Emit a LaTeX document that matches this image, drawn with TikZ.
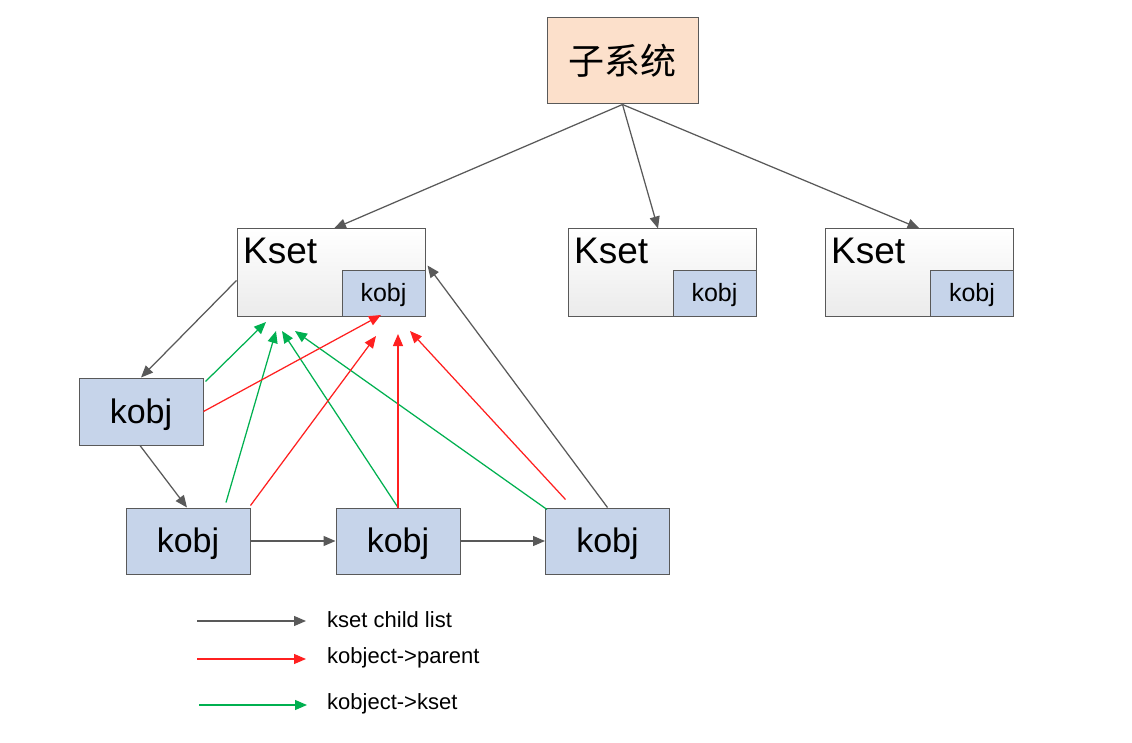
\documentclass[tikz,border=0pt]{standalone}
\usepackage{fontspec}
\setmainfont{Liberation Sans}
\newfontfamily\cjk{Noto Sans CJK SC}
\usetikzlibrary{arrows.meta,calc}
\definecolor{lgray}{HTML}{595959}
\definecolor{lgreen}{HTML}{00B050}
\definecolor{lred}{HTML}{FF2020}
\definecolor{peach}{HTML}{FCE0CB}
\definecolor{kblue}{HTML}{C6D4EA}
\definecolor{ksetbot}{HTML}{EBEBEB}
\begin{document}
\begin{tikzpicture}[x=1pt,y=-1pt,
  box/.style={draw=lgray,line width=1pt,inner sep=0pt},
  subbox/.style={box,fill=peach,minimum width=151pt,minimum height=86pt,font=\cjk\fontsize{36}{40}\selectfont},
  ksetbox/.style={box,top color=white,bottom color=ksetbot,minimum width=188pt,minimum height=87pt},
  kobjbig/.style={box,fill=kblue,minimum width=124pt,minimum height=66pt,font=\fontsize{34}{38}\selectfont,text height=30.6pt,text depth=6.8pt},
  kobjsmall/.style={box,fill=kblue,minimum width=83pt,minimum height=45pt,font=\fontsize{25}{28}\selectfont,text height=21.3pt,text depth=5pt},
  ksettext/.style={inner sep=0pt,anchor=base west,font=\fontsize{37}{40}\selectfont},
  legtext/.style={inner sep=0pt,anchor=west,font=\fontsize{22}{24}\selectfont},
  arr/.style={line width=1.25pt,-{Triangle[length=12pt,width=10pt]}},
  grayarr/.style={arr,draw=lgray},
  redarr/.style={arr,draw=lred},
  greenarr/.style={arr,draw=lgreen}]
\useasboundingbox (0,0) rectangle (1132,743);

% top
\node[subbox] (sub) at (622.5,61) {子系统};

% ksets
\node[ksetbox] (kset1) at (331,272.5) {};
\node[ksetbox] (kset2) at (662,272.5) {};
\node[ksetbox] (kset3) at (919.5,272.5) {};
\node[ksettext] (kt1) at (243,264) {Kset};
\node[ksettext] (kt2) at (574,264) {Kset};
\node[ksettext] (kt3) at (831,264) {Kset};
\node[kobjsmall,anchor=south east] (ko1) at (kset1.south east) {kobj};
\node[kobjsmall,anchor=south east] (ko2) at (kset2.south east) {kobj};
\node[kobjsmall,anchor=south east] (ko3) at (kset3.south east) {kobj};

% kobjs
\node[kobjbig,minimum height=67pt] (kA) at (141,411.5) {kobj};
\node[kobjbig] (kB) at (188,541) {kobj};
\node[kobjbig] (kC) at (398,541) {kobj};
\node[kobjbig] (kD) at (607.5,541) {kobj};

% gray arrows
\draw[grayarr] (sub.south) -- ([xshift=3pt]kset1.north);
\draw[grayarr] (sub.south) -- ([xshift=-4pt]kset2.north);
\draw[grayarr] (sub.south) -- ([xshift=0pt]kset3.north);
\draw[grayarr] ([yshift=-8pt]kset1.west) -- (kA.north);
\draw[grayarr] ([xshift=-1pt]kA.south) -- ([xshift=-1pt]kB.north);
\draw[grayarr] (kB.east) -- (kC.west);
\draw[grayarr] (kC.east) -- (kD.west);
\draw[grayarr] (kD.north) -- ([yshift=7pt,xshift=2pt]kset1.east);

% free ends
\coordinate (g1) at (266,322);
\coordinate (g2) at (276,331);
\coordinate (g3) at (282,331);
\coordinate (g4) at (295,331);
\coordinate (r1) at (381,315);
\coordinate (r2) at (376,336);
\coordinate (r3) at (398,334);
\coordinate (r4) at (410,331);

% green arrows
\draw[greenarr] ([xshift=2pt,yshift=-4pt]kA.north east) -- (g1);
\draw[greenarr] ([xshift=38pt,yshift=5pt]kB.north) -- (g2);
\draw[greenarr] (kC.north) -- (g3);
\draw[greenarr] ([xshift=2pt,yshift=-2pt]kD.north west) -- (g4);

% red arrows
\draw[redarr] (kA.east) -- (r1);
\draw[redarr] ([yshift=2pt]kB.north east) -- (r2);
\draw[redarr] (kC.north) -- (r3);
\draw[redarr] ([xshift=-42pt,yshift=8pt]kD.north) -- (r4);

% legend
\coordinate (l1a) at (197,621); \coordinate (l1b) at (306,621);
\coordinate (l2a) at (197,659); \coordinate (l2b) at (306,659);
\coordinate (l3a) at (199,705); \coordinate (l3b) at (307,705);
\draw[grayarr] (l1a) -- (l1b);
\draw[redarr] (l2a) -- (l2b);
\draw[greenarr] (l3a) -- (l3b);
\node[legtext] (lt1) at (327,620) {kset child list};
\node[legtext] (lt2) at (327,658) {kobject->parent};
\node[legtext] (lt3) at (327,704) {kobject->kset};
\end{tikzpicture}
\end{document}
